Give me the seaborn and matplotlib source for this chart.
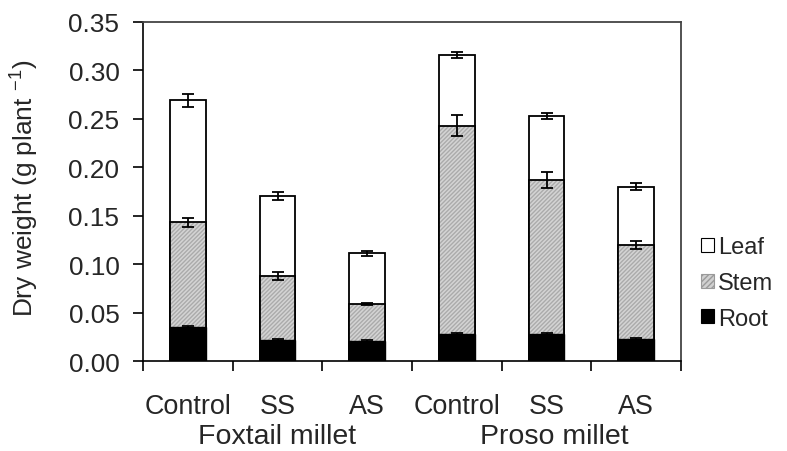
import matplotlib
matplotlib.use("Agg")
import matplotlib.pyplot as plt
from matplotlib.patches import Patch, Rectangle
import seaborn as sns
import pandas as pd
import numpy as np

# ---- data ----
categories = ["Control", "SS", "AS", "Control", "SS", "AS"]
groups = ["Foxtail millet", "Proso millet"]
root = [0.035, 0.022, 0.021, 0.028, 0.028, 0.023]
stem = [0.108, 0.066, 0.038, 0.215, 0.159, 0.097]
leaf = [0.126, 0.082, 0.052, 0.073, 0.066, 0.060]
root_err = [0.001, 0.001, 0.001, 0.001, 0.001, 0.001]
stem_err = [0.005, 0.004, 0.001, 0.011, 0.008, 0.004]
leaf_err = [0.0065, 0.004, 0.003, 0.0035, 0.003, 0.0035]
yticks = [0.00, 0.05, 0.10, 0.15, 0.20, 0.25, 0.30, 0.35]

sns.set_style("white")
plt.rcParams["font.family"] = ["Liberation Sans", "DejaVu Sans"]
plt.rcParams["mathtext.fontset"] = "custom"
plt.rcParams["mathtext.rm"] = "Liberation Sans"
plt.rcParams["mathtext.it"] = "Liberation Sans"

df = pd.DataFrame({
    "bar": [f"b{i}" for i in range(len(categories))],
    "root": root, "stem": stem, "leaf": leaf,
})
df["stem_top"] = df["root"] + df["stem"]
df["total"] = df["stem_top"] + df["leaf"]

fig = plt.figure(figsize=(7.87, 4.52), dpi=100)
ax = fig.add_axes([143 / 787, 1 - 362 / 452, 538 / 787, 339 / 452])

W = 0.4
# Leaf (total)
sns.barplot(data=df, x="bar", y="total", color="white", saturation=1, width=W,
            edgecolor="black", linewidth=1.3, ax=ax)
# Stem (cumulative) hatched
sns.barplot(data=df, x="bar", y="stem_top", color="#d4d4d4", saturation=1, width=W,
            edgecolor="#ababab", linewidth=0, hatch="////////", ax=ax)
stem_bars = list(ax.containers[1])
for r in stem_bars:
    ax.add_patch(Rectangle(r.get_xy(), r.get_width(), r.get_height(), fill=False,
                           edgecolor="black", linewidth=1.3, zorder=r.get_zorder() + 0.1))
# Root
sns.barplot(data=df, x="bar", y="root", color="black", saturation=1, width=W,
            edgecolor="black", linewidth=1.0, ax=ax)

xpos = np.arange(len(categories))
ekw = dict(fmt="none", ecolor="black", elinewidth=1.3, capsize=4, capthick=1.3, zorder=5)
ax.errorbar(xpos, df["total"], yerr=leaf_err, **ekw)
ax.errorbar(xpos, df["stem_top"], yerr=stem_err, **ekw)
ax.errorbar(xpos, df["root"], yerr=root_err, **ekw)

ax.set_xlim(-0.5, len(categories) - 0.5)
ax.set_ylim(0, 0.35)
ax.set_yticks(yticks)
ax.set_yticklabels([f"{v:.2f}" for v in yticks], fontsize=18.9)
ax.set_xticks(xpos)
ax.set_xticklabels(categories, fontsize=19.4)
ax.set_xticks(np.arange(-0.5, len(categories)), minor=True)
ax.tick_params(axis="x", which="major", length=0, pad=23)
ax.tick_params(axis="x", which="minor", length=7, width=1.2, direction="out", color="black", bottom=True)
ax.tick_params(axis="y", which="major", length=7, width=1.2, direction="out", color="black", left=True, pad=10)
ax.set_xlabel("")
ax.set_ylabel("Dry weight (g plant $^{-1}$)", fontsize=18.9)
ax.yaxis.set_label_coords(-0.19, 0.512)

for s in ["left", "bottom"]:
    ax.spines[s].set_color("black")
    ax.spines[s].set_linewidth(1.2)
for s in ["top", "right"]:
    ax.spines[s].set_color("#444444")
    ax.spines[s].set_linewidth(1.3)

# group labels
for gx, g in zip([1.0, 4.09], groups):
    ax.text(gx, -0.2224, g, transform=ax.get_xaxis_transform(), ha="center", va="center",
            fontsize=20.5)

handles = [
    Patch(facecolor="white", edgecolor="black", linewidth=0.8, label="Leaf"),
    Patch(facecolor="#d0d0d0", edgecolor="#9a9a9a", hatch="//////", linewidth=0.8, label="Stem"),
    Patch(facecolor="black", edgecolor="black", linewidth=0.8, label="Root"),
]
fig.legend(handles=handles, loc="center left", bbox_to_anchor=(684 / 787, 1 - 284 / 452),
           frameon=False, fontsize=17, handlelength=0.55, handleheight=0.55,
           handletextpad=0.2, labelspacing=0.58, borderpad=0.2)

fig.savefig("out.png", dpi=100)
